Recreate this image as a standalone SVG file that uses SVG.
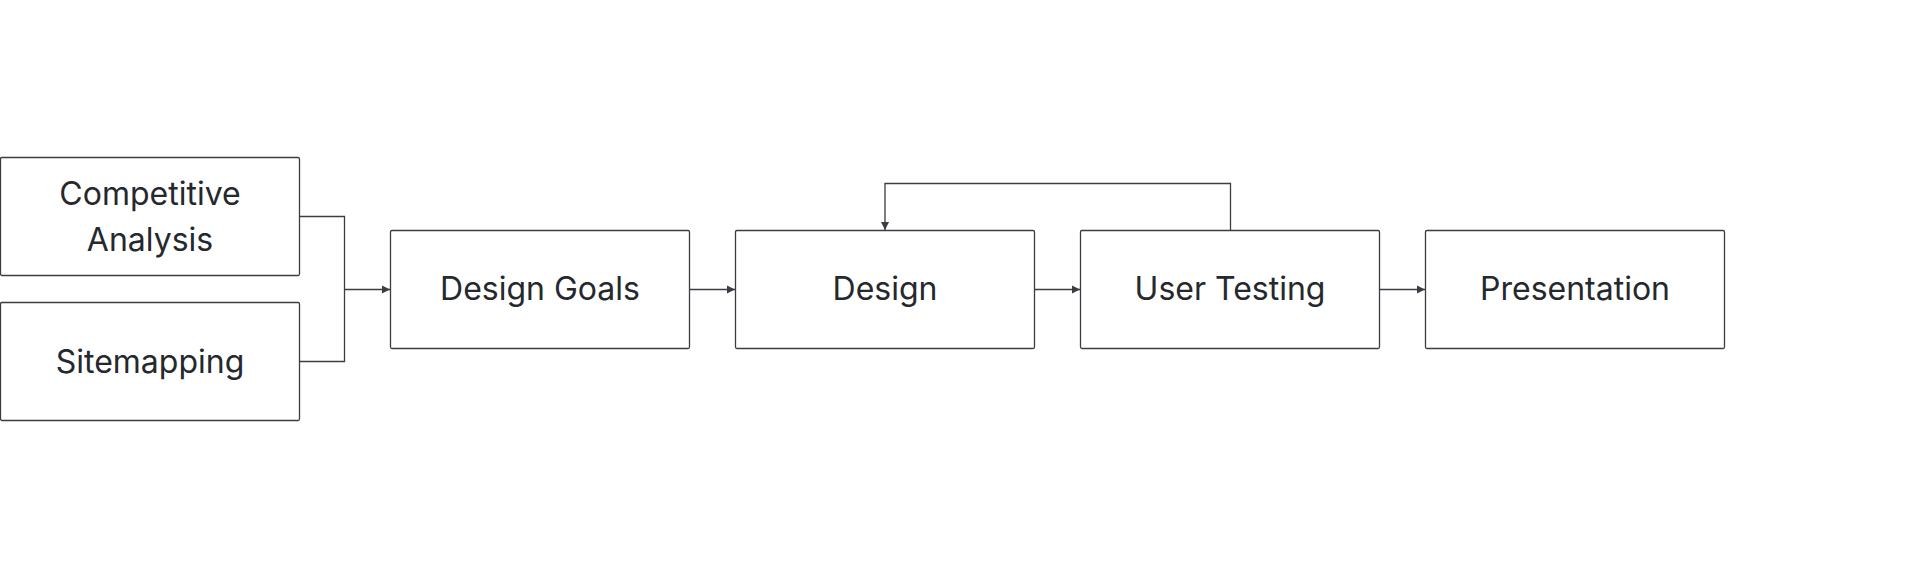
<svg xmlns="http://www.w3.org/2000/svg" width="1920" height="580" viewBox="0 0 1920 580">
<style>
.box{fill:#ffffff;stroke:#3a3d42;stroke-width:1.3}
.lbl{font-family:Inter,"Liberation Sans",sans-serif;font-size:32px;fill:#25282d;text-anchor:middle}
.edge{fill:none;stroke:#3a3d42;stroke-width:1.3}
</style>
<defs>
<marker id="arr" markerWidth="10" markerHeight="10" refX="8" refY="5" orient="auto" markerUnits="userSpaceOnUse">
<path d="M0,1 L8,5 L0,9 Z" fill="#3a3d42"/>
</marker>
</defs>
<rect width="1920" height="580" fill="#ffffff"/>
<g id="connectors">
<path class="edge" d="M299.5,216.5 H344.5 V361.5 H299.5"/>
<path class="edge" d="M344.5,289.5 H390" marker-end="url(#arr)"/>
<path class="edge" d="M689.5,289.5 H735" marker-end="url(#arr)"/>
<path class="edge" d="M1034.5,289.5 H1080" marker-end="url(#arr)"/>
<path class="edge" d="M1379.5,289.5 H1425" marker-end="url(#arr)"/>
<path class="edge" d="M1230.5,230.5 V183.5 H885 V230" marker-end="url(#arr)"/>
</g>
<g id="competitive-analysis">
<rect class="box" x="0.5" y="157.5" width="299" height="118" rx="1.5"/>
<text class="lbl" x="150" y="205">Competitive</text>
<text class="lbl" x="150" y="251">Analysis</text>
</g>
<g id="sitemapping">
<rect class="box" x="0.5" y="302.5" width="299" height="118" rx="1.5"/>
<text class="lbl" x="150" y="372.5">Sitemapping</text>
</g>
<g id="design-goals">
<rect class="box" x="390.5" y="230.5" width="299" height="118" rx="1.5"/>
<text class="lbl" x="540" y="300">Design Goals</text>
</g>
<g id="design">
<rect class="box" x="735.5" y="230.5" width="299" height="118" rx="1.5"/>
<text class="lbl" x="885" y="300">Design</text>
</g>
<g id="user-testing">
<rect class="box" x="1080.5" y="230.5" width="299" height="118" rx="1.5"/>
<text class="lbl" x="1230" y="300">User Testing</text>
</g>
<g id="presentation">
<rect class="box" x="1425.5" y="230.5" width="299" height="118" rx="1.5"/>
<text class="lbl" x="1575" y="300">Presentation</text>
</g>
</svg>
